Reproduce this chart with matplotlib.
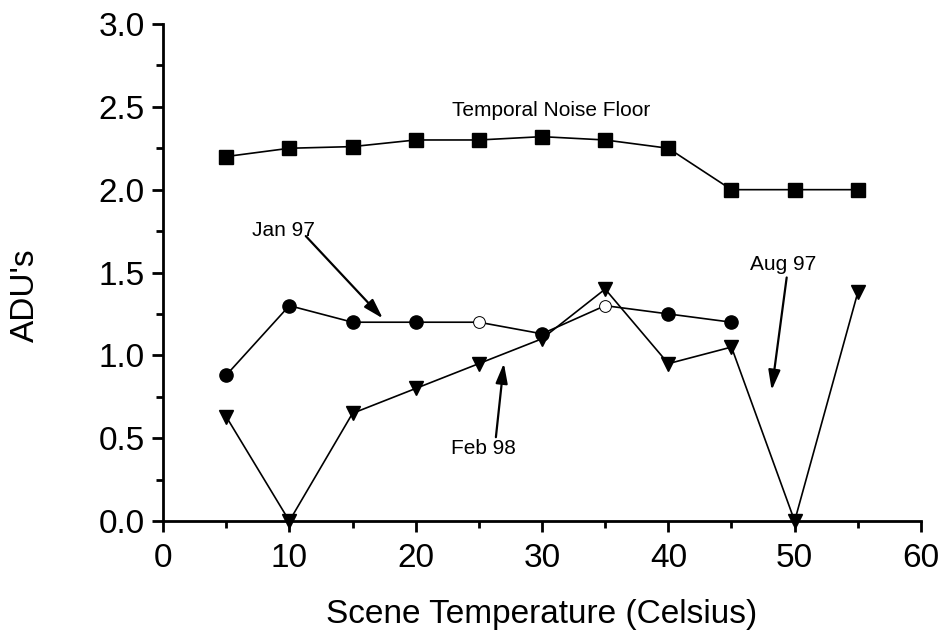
import matplotlib
matplotlib.use("Agg")
import matplotlib.pyplot as plt
from matplotlib.ticker import MultipleLocator

plt.rcParams['font.family'] = ['Liberation Sans', 'DejaVu Sans']

temps = [5, 10, 15, 20, 25, 30, 35, 40, 45, 50, 55]
noiseFloor = [2.20, 2.25, 2.26, 2.30, 2.30, 2.32, 2.30, 2.25, 2.00, 2.00, 2.00]

janTemps = [5, 10, 15, 20, 25, 30, 35, 40, 45]
jan97 = [0.88, 1.30, 1.20, 1.20, 1.20, 1.13, 1.30, 1.25, 1.20]
janHollow = [4, 6]   # points drawn as open circles

triTemps = [5, 10, 15, 20, 25, 30, 35, 40, 45, 50, 55]
feb98 = [0.63, 0.0, 0.65, 0.80, 0.95, 1.10, 1.40, 0.95, 1.05, 0.0, 1.38]

LW = 1.2
MS = 9.5

fig = plt.figure(figsize=(9.44, 6.35), dpi=100)
ax = fig.add_axes([0.1727, 0.1795, 0.8029, 0.7827])

ax.plot(temps, noiseFloor, color='black', lw=LW, marker='s', ms=MS,
        mfc='black', mec='black', zorder=3)

janFilled = [i for i in range(len(janTemps)) if i not in janHollow]
ax.plot(janTemps, jan97, color='black', lw=LW, marker='o', ms=MS,
        mfc='black', mec='black', markevery=janFilled, zorder=3)
ax.plot([janTemps[i] for i in janHollow], [jan97[i] for i in janHollow],
        ls='none', marker='o', ms=MS - 1, mfc='white', mec='black', mew=0.7,
        zorder=4)

ax.plot(triTemps, feb98, color='black', lw=LW, marker='v', ms=MS + 0.5,
        mfc='black', mec='black', zorder=5, clip_on=False)

ax.set_xlim(0, 60)
ax.set_ylim(0, 3.0)
ax.xaxis.set_major_locator(MultipleLocator(10))
ax.xaxis.set_minor_locator(MultipleLocator(5))
ax.yaxis.set_major_locator(MultipleLocator(0.5))
ax.yaxis.set_minor_locator(MultipleLocator(0.25))
ax.yaxis.set_major_formatter(matplotlib.ticker.FormatStrFormatter('%.1f'))

for s in ['top', 'right']:
    ax.spines[s].set_visible(False)
for s in ['left', 'bottom']:
    ax.spines[s].set_linewidth(2)

ax.tick_params(which='major', length=8, width=2, labelsize=24, direction='out')
ax.tick_params(which='minor', length=5, width=2, direction='out')
ax.tick_params(axis='x', pad=8)
ax.tick_params(axis='y', pad=5)

ax.set_xlabel('Scene Temperature (Celsius)', fontsize=24, va='center')
ax.xaxis.set_label_coords(0.5, -0.189)
ax.set_ylabel("ADU's", fontsize=24, va='center')
ax.yaxis.set_label_coords(-0.181, 0.455)

arrowProps = dict(arrowstyle='-|>,head_length=0.6,head_width=0.18',
                  color='black', lw=1.6, shrinkA=0, shrinkB=0,
                  mutation_scale=20)

ax.text(30.7, 2.48, 'Temporal Noise Floor', fontsize=15, ha='center', va='center')

ax.text(9.5, 1.753, 'Jan 97', fontsize=15, ha='center', va='center')
ax.annotate('', xy=(17.4, 1.223), xytext=(11.3, 1.72), arrowprops=arrowProps)

ax.text(25.4, 0.44, 'Feb 98', fontsize=15, ha='center', va='center')
ax.annotate('', xy=(26.98, 0.952), xytext=(26.35, 0.506), arrowprops=arrowProps)

ax.text(49.05, 1.548, 'Aug 97', fontsize=15, ha='center', va='center')
ax.annotate('', xy=(48.18, 0.79), xytext=(49.37, 1.47), arrowprops=arrowProps)

plt.savefig('out.png', dpi=100)
